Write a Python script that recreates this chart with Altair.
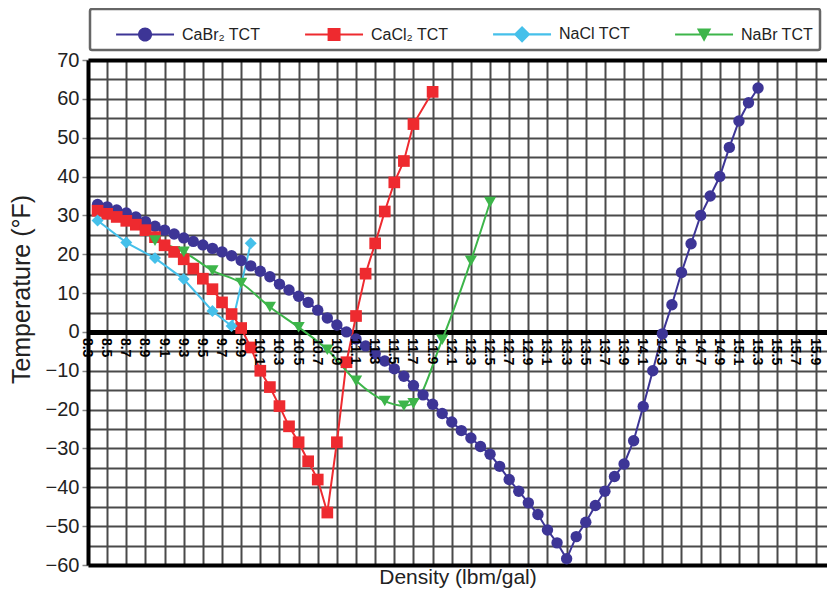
import altair as alt
import pandas as pd

# ---------------- data ----------------
series_names = ["CaBr₂ TCT", "CaCl₂ TCT", "NaCl TCT", "NaBr TCT"]
series_colors = ["#3d3596", "#ee2a2f", "#45c0ea", "#3db54a"]
marker_shapes = ["circle", "square", "diamond", "triangle-down"]
marker_sizes = [130, 150, 210, 190]

cabr2_density = [8.4, 8.5, 8.6, 8.7, 8.8, 8.9, 9.0, 9.1, 9.2, 9.3, 9.4, 9.5, 9.6, 9.7,
                 9.8, 9.9, 10.0, 10.1, 10.2, 10.3, 10.4, 10.5, 10.6, 10.7, 10.8, 10.9,
                 11.0, 11.1, 11.2, 11.3, 11.4, 11.5, 11.6, 11.7, 11.8, 11.9, 12.0, 12.1,
                 12.2, 12.3, 12.4, 12.5, 12.6, 12.7, 12.8, 12.9, 13.0, 13.1, 13.2, 13.3,
                 13.4, 13.5, 13.6, 13.7, 13.8, 13.9, 14.0, 14.1, 14.2, 14.3, 14.4, 14.5,
                 14.6, 14.7, 14.8, 14.9, 15.0, 15.1, 15.2, 15.3]
cabr2_temp = [32.8, 32.2, 31.4, 30.6, 29.6, 28.4, 27.2, 26.2, 25.2, 24.2, 23.3, 22.4, 21.5, 20.6,
              19.6, 18.4, 17.0, 15.6, 14.2, 12.3, 10.8, 9.2, 7.6, 5.6, 3.6, 1.8,
              0.0, -1.8, -3.6, -5.6, -7.5, -9.5, -11.4, -13.8, -16.2, -18.6, -21.0, -23.2,
              -25.4, -27.3, -29.5, -31.5, -34.6, -38.0, -41.0, -44.0, -47.0, -51.0, -54.3, -58.4,
              -52.7, -49.0, -44.7, -41.0, -37.2, -34.0, -28.0, -19.2, -10.0, -0.5, 7.0, 15.3,
              22.7, 30.0, 35.0, 40.0, 47.5, 54.3, 59.0, 62.8]

cacl2_density = [8.4, 8.5, 8.6, 8.7, 8.8, 8.9, 9.0, 9.1, 9.2, 9.3, 9.4, 9.5, 9.6, 9.7,
                 9.8, 9.9, 10.0, 10.1, 10.2, 10.3, 10.4, 10.5, 10.6, 10.7, 10.8, 10.9,
                 11.0, 11.1, 11.2, 11.3, 11.4, 11.5, 11.6, 11.7, 11.9]
cacl2_temp = [31.2, 30.4, 29.6, 28.6, 27.6, 26.2, 24.4, 22.3, 20.6, 18.7, 16.3, 13.7, 11.0, 7.6,
              4.6, 1.0, -4.0, -10.0, -14.2, -19.1, -24.3, -28.4, -33.3, -38.0, -46.5, -28.4,
              -7.8, 4.1, 15.0, 22.8, 31.0, 38.5, 44.0, 53.5, 61.8]

nacl_density = [8.4, 8.7, 9.0, 9.3, 9.6, 9.8, 10.0]
nacl_temp = [28.7, 23.0, 19.0, 13.6, 5.4, 1.5, 22.8]

nabr_density = [9.0, 9.3, 9.6, 9.9, 10.2, 10.5, 10.8, 11.1, 11.4, 11.6, 11.7, 12.0, 12.3, 12.5]
nabr_temp = [23.5, 20.6, 15.8, 12.6, 6.4, 1.2, -4.6, -12.6, -17.8, -19.0, -18.4, -2.0, 18.3, 33.4]

x_grid_values = [8.3, 8.5, 8.7, 8.9, 9.1, 9.3, 9.5, 9.7, 9.9, 10.1, 10.3, 10.5, 10.7, 10.9,
                 11.1, 11.3, 11.5, 11.7, 11.9, 12.1, 12.3, 12.5, 12.7, 12.9, 13.1, 13.3,
                 13.5, 13.7, 13.9, 14.1, 14.3, 14.5, 14.7, 14.9, 15.1, 15.3, 15.5, 15.7,
                 15.9]
x_label_values = x_grid_values
y_grid_values = [-60, -55, -50, -45, -40, -35, -30, -25, -20, -15, -10, -5, 0,
                 5, 10, 15, 20, 25, 30, 35, 40, 45, 50, 55, 60, 65, 70]
x_domain = [8.3, 16.02]
y_domain = [-60, 70]

rows = []
for name, xs_, ys_ in [(series_names[0], cabr2_density, cabr2_temp),
                       (series_names[1], cacl2_density, cacl2_temp),
                       (series_names[2], nacl_density, nacl_temp),
                       (series_names[3], nabr_density, nabr_temp)]:
    for xv, yv in zip(xs_, ys_):
        rows.append({"series": name, "density": xv, "temp": yv})
df = pd.DataFrame(rows)

label_df = pd.DataFrame({"density": x_label_values,
                         "label": [f"{v:.1f}" for v in x_label_values],
                         "zero": [0] * len(x_label_values)})

# ---------------- layout ----------------
W, H = 739, 505
FONT = "Liberation Sans"

# legend symbols: a line segment with the marker in the middle (unit = sqrt(size)/2)
line_part = "M0.06,-0.06 L3.28,-0.06 L3.28,0.06 L0.06,0.06 Z "
legend_paths = [
    line_part + "M2.06,0 A0.39,0.39 0 1,1 1.28,0 A0.39,0.39 0 1,1 2.06,0 Z",
    line_part + "M1.31,-0.36 L2.03,-0.36 L2.03,0.36 L1.31,0.36 Z",
    line_part + "M1.67,-0.46 L2.13,0 L1.67,0.46 L1.21,0 Z",
    line_part + "M1.27,-0.33 L2.07,-0.33 L1.67,0.40 Z",
]

color_scale = alt.Scale(domain=series_names, range=series_colors)
xs = alt.Scale(domain=x_domain, nice=False, zero=False)
ys = alt.Scale(domain=y_domain, nice=False, zero=False)

axis_x_main = alt.Axis(values=x_grid_values, grid=True, gridColor="#4a4a4a", gridWidth=2,
                       labels=False, ticks=False, domain=True, domainColor="#000",
                       domainWidth=4, title="Density (lbm/gal)", titleFontSize=21,
                       titleFontWeight="normal", titleColor="#222", titlePadding=1,
                       titleFont=FONT)
axis_x_top = alt.Axis(orient="top", labels=False, ticks=False, grid=False, domain=True,
                      domainColor="#000", domainWidth=4, title=None)
axis_y = alt.Axis(values=y_grid_values,
                  labelExpr="datum.value % 10 === 0 ? datum.label : ''",
                  grid=True,
                  gridColor={"condition": {"test": "datum.value === 0", "value": "#000"},
                             "value": "#4a4a4a"},
                  gridWidth={"condition": {"test": "datum.value === 0", "value": 5},
                             "value": 2},
                  domainColor="#000", domainWidth=4, tickColor="#888", tickSize=6,
                  tickWidth=1.5,
                  tickOpacity={"condition": {"test": "datum.value % 10 === 0", "value": 1},
                               "value": 0},
                  labelFontSize=20, labelColor="#222", labelFont=FONT, labelPadding=3,
                  labelOverlap=False,
                  title="Temperature (°F)", titleFontSize=25, titleFontWeight="normal",
                  titleColor="#222", titleFont=FONT, titlePadding=11, titleY=229)

line_main = alt.Chart(df).transform_filter(
    alt.datum.series != series_names[3]
).mark_line(strokeWidth=2).encode(
    x=alt.X("density:Q", scale=xs, axis=axis_x_main),
    y=alt.Y("temp:Q", scale=ys, axis=axis_y),
    color=alt.Color("series:N", scale=color_scale, legend=None),
)

line_nabr = alt.Chart(df).transform_filter(
    alt.datum.series == series_names[3]
).mark_line(strokeWidth=2, interpolate="monotone").encode(
    x=alt.X("density:Q", scale=xs, axis=None),
    y=alt.Y("temp:Q", scale=ys, axis=axis_y),
    color=alt.Color("series:N", scale=color_scale, legend=None),
)

points = alt.Chart(df).mark_point(filled=True, opacity=1).encode(
    x=alt.X("density:Q", scale=xs, axis=None),
    y=alt.Y("temp:Q", scale=ys, axis=axis_y),
    color=alt.Color("series:N", scale=color_scale, legend=None),
    shape=alt.Shape("series:N", scale=alt.Scale(domain=series_names, range=marker_shapes),
                    legend=None),
    size=alt.Size("series:N", scale=alt.Scale(domain=series_names, range=marker_sizes),
                  legend=None),
)

# density tick labels sit just under the 0 °F line, rotated
x_labels = alt.Chart(label_df).mark_text(
    angle=90, align="left", baseline="middle", dx=6, dy=1, font=FONT,
    fontSize=14, fontWeight="bold", color="#000"
).encode(
    x=alt.X("density:Q", scale=xs, axis=None),
    y=alt.Y("zero:Q", scale=ys, axis=axis_y),
    text="label:N",
)

legend_props = dict(title=None, orient="none", legendX=2, legendY=-51,
                    direction="horizontal", columns=4, padding=7,
                    strokeColor="#666", cornerRadius=2, fillColor="white",
                    symbolSize=1296, symbolOpacity=1, symbolStrokeWidth=0,
                    symbolOffset=0, labelFontSize=16, labelFont=FONT, labelColor="#222",
                    labelOffset=49, columnPadding=25, labelLimit=300)

legend_layer = alt.Chart(df).mark_point(filled=True, opacity=0).encode(
    x=alt.X("density:Q", scale=xs, axis=axis_x_top),
    y=alt.Y("temp:Q", scale=ys, axis=axis_y),
    color=alt.Color("series:N", scale=color_scale, legend=alt.Legend(**legend_props)),
    shape=alt.Shape("series:N", scale=alt.Scale(domain=series_names, range=legend_paths),
                    legend=alt.Legend(**legend_props)),
)

chart = alt.layer(line_main, line_nabr, points, x_labels, legend_layer).resolve_axis(
    x="independent"
).resolve_scale(
    color="independent", shape="independent", size="independent"
).properties(
    width=W, height=H,
    autosize=alt.AutoSizeParams(type="none"),
    padding={"left": 80, "top": 52, "right": 0, "bottom": 25},
).configure_view(stroke=None).configure_legend(strokeWidth=2.5)

chart.save("out.html", embed_options={"renderer": "svg", "actions": False})
